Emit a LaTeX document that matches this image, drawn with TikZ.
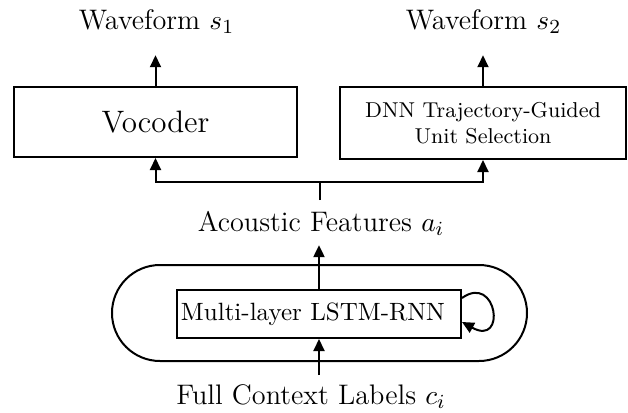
\documentclass[tikz,border=0pt]{standalone}
\usepackage{amsmath}
\usepackage{tikz}
\usetikzlibrary{arrows.meta}

\begin{document}
\begin{tikzpicture}[x=0.4pt, y=-0.4pt, >={Triangle[length=4.8pt,width=4.4pt]}, thick,
  block/.style={draw, thick, align=center},
  label/.style={inner sep=0pt, outer sep=4pt, font=\fontsize{11.3}{13.5}\selectfont}]
\useasboundingbox (0,0) rectangle (628,413);
\node (wave1) [label] at (156.5, 22) {Waveform $s_1$};
\node (wave2) [label] at (483.5, 22) {Waveform $s_2$};
\node (vocoder) [block, minimum width=113.2pt, minimum height=28pt, font=\fontsize{12.4}{15}\selectfont] at (155.5, 122) {Vocoder};
\node (dnn) [block, minimum width=114.4pt, minimum height=28.8pt, font=\fontsize{8.6}{10.5}\selectfont] at (483, 123) {DNN Trajectory-Guided\\Unit Selection};
\node (feat) [label] at (321, 223) {Acoustic Features $a_i$};
\node (pill) [draw, thick, rounded corners=19.2pt, minimum width=166pt, minimum height=38.4pt] at (319.5, 313) {};
\node (lstm) [draw, thick, inner xsep=1.6pt, text width=110.4pt, align=left, minimum height=19.2pt] at (319, 314) {Multi-layer LSTM-RNN};
\node (ctx) [label] at (311, 397) {Full Context Labels $c_i$};
\coordinate (fork) at (320, 182);
\coordinate (stub) at (320, 200);
\draw [->, shorten >=4.5pt] (vocoder) -- (vocoder |- wave1.south);
\draw [->, shorten >=4.5pt] (dnn) -- (dnn |- wave2.south);
\draw (stub) -- (fork);
\draw [->] (fork) -| (vocoder);
\draw [->] (fork) -| (dnn);
\draw [->] (lstm) -- (lstm |- feat.south);
\draw [->] (lstm |- ctx.north) -- (lstm);
\draw [->] ([yshift=6.4pt]lstm.east) .. controls +(14pt,10pt) and +(18pt,-10pt) .. ([yshift=-3.2pt]lstm.east);
\end{tikzpicture}
\end{document}
